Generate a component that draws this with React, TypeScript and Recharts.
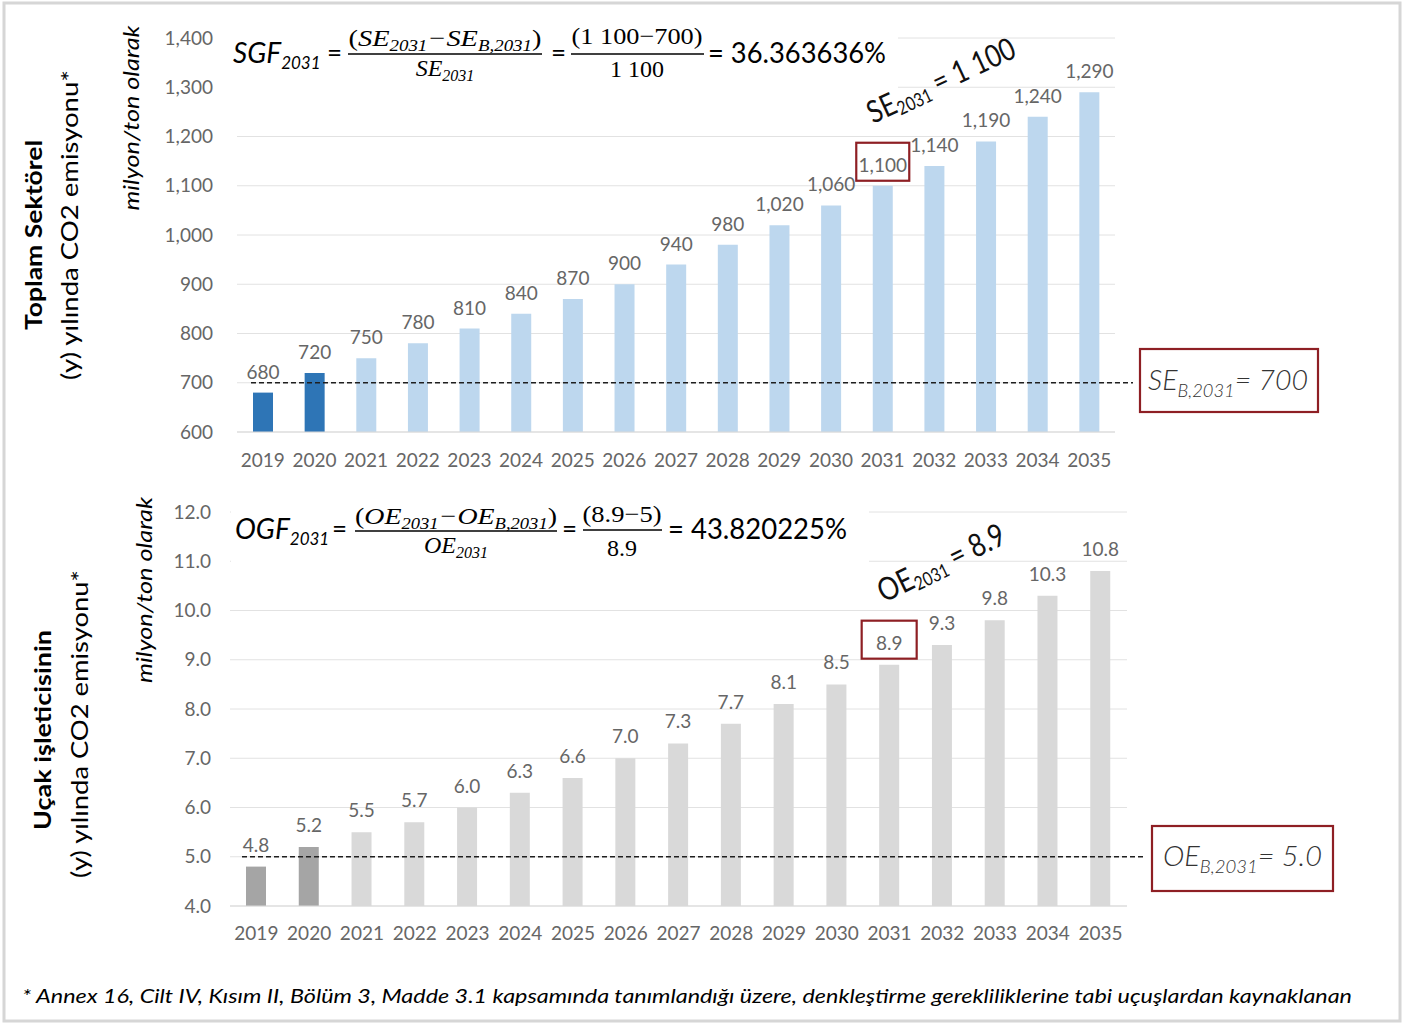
import React from 'react';
import {
  BarChart,
  Bar,
  XAxis,
  YAxis,
  CartesianGrid,
  ReferenceLine,
  LabelList,
  Cell
} from 'recharts';

// categories and values
const years = ['2019', '2020', '2021', '2022', '2023', '2024', '2025', '2026', '2027', '2028', '2029', '2030', '2031', '2032', '2033', '2034', '2035'];
const actualYears = ['2019', '2020'];
const highlightYear = '2031';

const sectorValues = [680, 720, 750, 780, 810, 840, 870, 900, 940, 980, 1020, 1060, 1100, 1140, 1190, 1240, 1290];
const sectorTicks = [600, 700, 800, 900, 1000, 1100, 1200, 1300, 1400];
const sectorBaseline = 700;

const operatorValues = [4.8, 5.2, 5.5, 5.7, 6.0, 6.3, 6.6, 7.0, 7.3, 7.7, 8.1, 8.5, 8.9, 9.3, 9.8, 10.3, 10.8];
const operatorTicks = [4, 5, 6, 7, 8, 9, 10, 11, 12];
const operatorBaseline = 5.0;

const footnote = '* Annex 16, Cilt IV, Kısım II, Bölüm 3, Madde 3.1 kapsamında tanımlandığı üzere, denkleştirme gerekliliklerine tabi uçuşlardan kaynaklanan';

const FONT = "Lato, 'Open Sans', sans-serif";
const SERIF = "'Liberation Serif', 'DejaVu Serif', serif";
const GREY_TEXT = '#666666';
const RED = '#8E1F24';

const sectorData = years.map((year, i) => ({ year, value: sectorValues[i] }));
const operatorData = years.map((year, i) => ({ year, value: operatorValues[i] }));

const fmtThousands = (v: number) => v.toLocaleString('en-US');
const fmtOne = (v: number) => v.toFixed(1);

const makeLabel = (fmt: (v: number) => string, offset: number, boxW: number) => (props: any) => {
  const vb = props.viewBox || props;
  const { x, y, width } = vb;
  const idx = props.index;
  const cx = x + width / 2;
  const by = y - offset;
  const hl = years[idx] === highlightYear;
  return (
    <g>
      {hl && (
        <rect x={cx - boxW / 2} y={by - 29} width={boxW} height={38} fill="none" stroke={RED} strokeWidth={2.2} />
      )}
      <text x={cx} y={by} textAnchor="middle" fontSize={19} fill={GREY_TEXT} fontFamily={FONT}>
        {fmt(Number(props.value))}
      </text>
    </g>
  );
};

// dashed baseline, starts a little inside the plot and runs past it towards the box
const dashedTo = (inset: number, extra: number) => (p: any) => (
  <line x1={p.x1 + inset} y1={p.y1} x2={p.x2 + extra} y2={p.y2} stroke="#1f1f1f" strokeWidth={1.5} strokeDasharray="5 3" />
);

const tickStyle = { fontSize: 19, fill: GREY_TEXT, fontFamily: FONT };

const App: React.FC = () => {
  return (
    <div style={{ position: 'absolute', left: 0, top: 0, width: 1414, height: 1030, background: '#fff', fontFamily: FONT }}>
      <div style={{ position: 'absolute', left: 0, top: 0 }}>
        <BarChart width={1414} height={500} data={sectorData} margin={{ top: 38, right: 299, bottom: 38, left: 0 }}>
          <CartesianGrid vertical={false} stroke="#E2E2E2" />
          <XAxis
            dataKey="year"
            interval={0}
            height={30}
            tickLine={false}
            tickSize={0}
            tickMargin={22}
            axisLine={{ stroke: '#D9D9D9' }}
            tick={tickStyle}
          />
          <YAxis
            width={237}
            domain={[600, 1400]}
            ticks={sectorTicks}
            tickFormatter={fmtThousands}
            axisLine={false}
            tickLine={false}
            tickSize={0}
            tickMargin={24}
            tick={tickStyle}
          />
          <Bar dataKey="value" barSize={20} isAnimationActive={false}>
            {sectorData.map((d) => (
              <Cell key={d.year} fill={actualYears.includes(d.year) ? '#2E75B6' : '#BDD7EE'} />
            ))}
            <LabelList dataKey="value" content={makeLabel(fmtThousands, 14, 53)} />
          </Bar>
          <ReferenceLine y={sectorBaseline} shape={dashedTo(14, 18)} />
        </BarChart>
      </div>

      <div style={{ position: 'absolute', left: 0, top: 480 }}>
        <BarChart width={1414} height={500} data={operatorData} margin={{ top: 32, right: 287, bottom: 44, left: 0 }}>
          <CartesianGrid vertical={false} stroke="#E2E2E2" />
          <XAxis
            dataKey="year"
            interval={0}
            height={30}
            tickLine={false}
            tickSize={0}
            tickMargin={21}
            axisLine={{ stroke: '#D9D9D9' }}
            tick={tickStyle}
          />
          <YAxis
            width={230}
            domain={[4, 12]}
            ticks={operatorTicks}
            tickFormatter={fmtOne}
            axisLine={false}
            tickLine={false}
            tickSize={0}
            tickMargin={19}
            tick={tickStyle}
          />
          <Bar dataKey="value" barSize={20} isAnimationActive={false}>
            {operatorData.map((d) => (
              <Cell key={d.year} fill={actualYears.includes(d.year) ? '#A5A5A5' : '#D9D9D9'} />
            ))}
            <LabelList dataKey="value" content={makeLabel(fmtOne, 15, 55)} />
          </Bar>
          <ReferenceLine y={operatorBaseline} shape={dashedTo(12, 18)} />
        </BarChart>
      </div>

      <svg width={1414} height={1030} style={{ position: 'absolute', left: 0, top: 0, pointerEvents: 'none' }}>
        {/* frame */}
        <rect x={4} y={3} width={1396} height={1018} fill="none" stroke="#D6D6D6" strokeWidth={3} />

        {/* left titles, top */}
        <text x={33} y={235} transform="rotate(-90 33 235)" textAnchor="middle" dominantBaseline="central"
          fontWeight={700} fontSize={23} textLength={190} lengthAdjust="spacingAndGlyphs" fill="#000">Toplam Sektörel</text>
        <text x={68} y={225} transform="rotate(-90 68 225)" textAnchor="middle" dominantBaseline="central"
          fontSize={24} textLength={310} lengthAdjust="spacingAndGlyphs" fill="#000">(y) yılında CO2 emisyonu*</text>
        <text x={130} y={118} transform="rotate(-90 130 118)" textAnchor="middle" dominantBaseline="central"
          fontStyle="italic" fontSize={21} textLength={185} lengthAdjust="spacingAndGlyphs" fill="#000">milyon/ton olarak</text>

        {/* left titles, bottom */}
        <text x={42} y={730} transform="rotate(-90 42 730)" textAnchor="middle" dominantBaseline="central"
          fontWeight={700} fontSize={23} textLength={200} lengthAdjust="spacingAndGlyphs" fill="#000">Uçak işleticisinin</text>
        <text x={78} y={724} transform="rotate(-90 78 724)" textAnchor="middle" dominantBaseline="central"
          fontSize={24} textLength={308} lengthAdjust="spacingAndGlyphs" fill="#000">(y) yılında CO2 emisyonu*</text>
        <text x={143} y={590} transform="rotate(-90 143 590)" textAnchor="middle" dominantBaseline="central"
          fontStyle="italic" fontSize={21} textLength={186} lengthAdjust="spacingAndGlyphs" fill="#000">milyon/ton olarak</text>

        {/* top formula */}
        <rect x={231} y={20} width={667} height={80} fill="#fff" />
        <text x={233} y={63} fontStyle="italic" fontSize={28} fill="#000">SGF<tspan fontSize={17} dy={6}>2031</tspan></text>
        <text x={327} y={62} fontSize={26} fill="#000">=</text>
        <text x={445} y={46} textAnchor="middle" fontFamily={SERIF} fontStyle="italic" fontSize={24} fill="#000"
          textLength={193} lengthAdjust="spacingAndGlyphs">
          <tspan fontStyle="normal">(</tspan>SE<tspan fontSize={16} dy={5}>2031</tspan><tspan dy={-5}>−SE</tspan><tspan fontSize={16} dy={5}>B,2031</tspan><tspan dy={-5} fontStyle="normal">)</tspan>
        </text>
        <line x1={348} x2={542} y1={54} y2={54} stroke="#000" strokeWidth={1.4} />
        <text x={445} y={76} textAnchor="middle" fontFamily={SERIF} fontStyle="italic" fontSize={24} fill="#000">SE<tspan fontSize={16} dy={5}>2031</tspan></text>
        <text x={551} y={62} fontSize={26} fill="#000">=</text>
        <text x={637} y={44} textAnchor="middle" fontFamily={SERIF} fontSize={24} fill="#000"
          textLength={131} lengthAdjust="spacingAndGlyphs">(1 100−700)</text>
        <line x1={571} x2={704} y1={54} y2={54} stroke="#000" strokeWidth={1.4} />
        <text x={637} y={77} textAnchor="middle" fontFamily={SERIF} fontSize={24} fill="#000">1 100</text>
        <text x={708} y={63} fontSize={29} fill="#000" textLength={178} lengthAdjust="spacingAndGlyphs">= 36.363636%</text>

        {/* bottom formula */}
        <rect x={231} y={496} width={638} height={80} fill="#fff" />
        <text x={235} y={539} fontStyle="italic" fontSize={28} fill="#000">OGF<tspan fontSize={17} dy={6}>2031</tspan></text>
        <text x={332} y={538} fontSize={26} fill="#000">=</text>
        <text x={456} y={524} textAnchor="middle" fontFamily={SERIF} fontStyle="italic" fontSize={24} fill="#000"
          textLength={202} lengthAdjust="spacingAndGlyphs">
          <tspan fontStyle="normal">(</tspan>OE<tspan fontSize={16} dy={5}>2031</tspan><tspan dy={-5}>−OE</tspan><tspan fontSize={16} dy={5}>B,2031</tspan><tspan dy={-5} fontStyle="normal">)</tspan>
        </text>
        <line x1={355} x2={557} y1={531} y2={531} stroke="#000" strokeWidth={1.4} />
        <text x={456} y={553} textAnchor="middle" fontFamily={SERIF} fontStyle="italic" fontSize={24} fill="#000">OE<tspan fontSize={16} dy={5}>2031</tspan></text>
        <text x={562} y={538} fontSize={26} fill="#000">=</text>
        <text x={622} y={522} textAnchor="middle" fontFamily={SERIF} fontSize={24} fill="#000"
          textLength={79} lengthAdjust="spacingAndGlyphs">(8.9−5)</text>
        <line x1={583} x2={662} y1={530} y2={530} stroke="#000" strokeWidth={1.4} />
        <text x={622} y={556} textAnchor="middle" fontFamily={SERIF} fontSize={24} fill="#000">8.9</text>
        <text x={668} y={539} fontSize={29} fill="#000" textLength={179} lengthAdjust="spacingAndGlyphs">= 43.820225%</text>

        {/* rotated annotations */}
        <text x={873} y={124} transform="rotate(-25 873 124)" fontSize={31} fill="#111"
          textLength={160} lengthAdjust="spacingAndGlyphs">SE<tspan fontSize={19} dy={4}>2031</tspan><tspan dy={-4}> = 1 100</tspan></text>
        <text x={884} y={603} transform="rotate(-26 884 603)" fontSize={32} fill="#111"
          textLength={138} lengthAdjust="spacingAndGlyphs">OE<tspan fontSize={19} dy={4}>2031</tspan><tspan dy={-4}> = 8.9</tspan></text>

        {/* baseline boxes */}
        <rect x={1140} y={349} width={178} height={63} fill="#fff" stroke={RED} strokeWidth={2.2} />
        <text x={1148} y={390} fontStyle="italic" fontWeight={300} fontSize={28} fill="#333"
          textLength={160} lengthAdjust="spacingAndGlyphs">SE<tspan fontSize={18} dy={7}>B,2031</tspan><tspan dy={-7}>= 700</tspan></text>
        <rect x={1152} y={826} width={181} height={65} fill="#fff" stroke={RED} strokeWidth={2.2} />
        <text x={1163} y={866} fontStyle="italic" fontWeight={300} fontSize={28} fill="#333"
          textLength={159} lengthAdjust="spacingAndGlyphs">OE<tspan fontSize={18} dy={7}>B,2031</tspan><tspan dy={-7}>= 5.0</tspan></text>

        {/* footnote */}
        <text x={22} y={1003} fontStyle="italic" fontSize={19} fill="#000"
          textLength={1330} lengthAdjust="spacingAndGlyphs">{footnote}</text>
      </svg>
    </div>
  );
};

export default App;
